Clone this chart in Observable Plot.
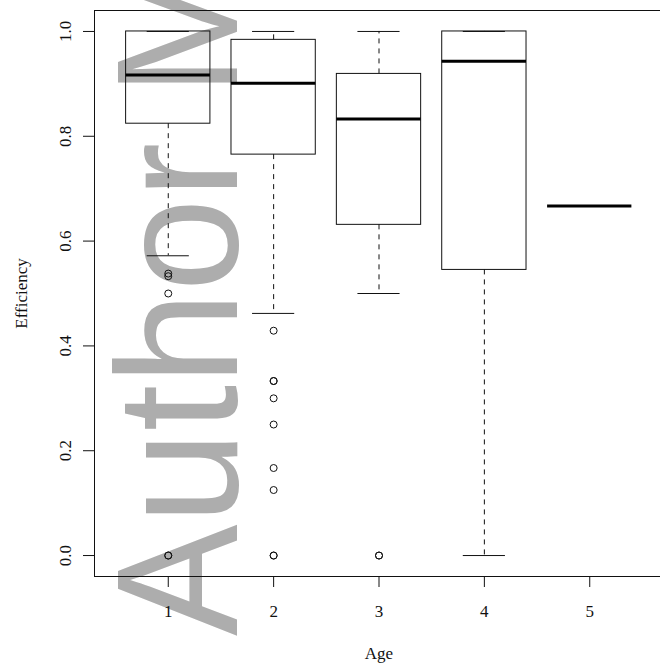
<!DOCTYPE html>
<html>
<head>
<meta charset="utf-8">
<script src="https://cdn.jsdelivr.net/npm/d3@7"></script>
<script src="https://cdn.jsdelivr.net/npm/@observablehq/plot@0.6"></script>
<style>
  html, body { margin: 0; padding: 0; background: #fff; overflow: hidden; }
</style>
</head>
<body>
<div id="chart"></div>
<script>
// Box statistics per age group
const ages        = [1, 2, 3, 4, 5];
const q1          = [0.824, 0.765, 0.631, 0.545, 0.667];
const medians     = [0.917, 0.901, 0.833, 0.943, 0.667];
const q3          = [1.000, 0.984, 0.919, 1.000, 0.667];
const whiskerLow  = [0.572, 0.462, 0.500, 0.000, 0.667];
const whiskerHigh = [1.000, 1.000, 1.000, 1.000, 0.667];

// Outliers
const outlierAge   = [1, 1, 1, 1, 1, 2, 2, 2, 2, 2, 2, 2, 2, 2, 3, 3];
const outlierValue = [0.538, 0.533, 0.500, 0, 0, 0.429, 0.333, 0.333, 0.300, 0.250, 0.167, 0.125, 0, 0, 0, 0];

// Ticks
const xTicks = [1, 2, 3, 4, 5];
const yTicks = [0, 0.2, 0.4, 0.6, 0.8, 1.0];

const boxes = ages.map((a, i) => ({
  age: a, q1: q1[i], median: medians[i], q3: q3[i], lo: whiskerLow[i], hi: whiskerHigh[i]
}));
const outliers = outlierAge.map((a, i) => ({age: a, value: outlierValue[i]}));

const half = 0.4, cap = 0.2;
const ink = "#111";

const plot = Plot.plot({
  width: 663,
  height: 666,
  marginLeft: 94,
  marginRight: 0,
  marginTop: 10,
  marginBottom: 90,
  style: {fontFamily: "'Liberation Serif', 'Times New Roman', serif", fontSize: "17px", maxWidth: "none", overflow: "visible", color: ink},
  x: {domain: [0.3, 5.7]},
  y: {domain: [-0.04, 1.04]},
  marks: [
    Plot.axisY({ticks: yTicks, tickSize: 11, tickPadding: 13, tickRotate: -90, textAnchor: "middle", lineAnchor: "bottom",
                tickFormat: d3.format(".1f"), label: null, stroke: ink}),
    Plot.axisX({ticks: xTicks, tickSize: 11, tickPadding: 29, lineAnchor: "bottom", tickFormat: d => String(d), label: null, stroke: ink}),
    Plot.frame({stroke: ink}),
    // whiskers
    Plot.ruleX(boxes, {x: "age", y1: "q3", y2: "hi", stroke: ink, strokeDasharray: "5,5"}),
    Plot.ruleX(boxes, {x: "age", y1: "q1", y2: "lo", stroke: ink, strokeDasharray: "5,5"}),
    // caps
    Plot.ruleY(boxes, {y: "hi", x1: d => d.age - cap, x2: d => d.age + cap, stroke: ink}),
    Plot.ruleY(boxes, {y: "lo", x1: d => d.age - cap, x2: d => d.age + cap, stroke: ink}),
    // boxes
    Plot.rect(boxes, {x1: d => d.age - half, x2: d => d.age + half, y1: "q1", y2: "q3", fill: "none", stroke: ink}),
    // medians
    Plot.ruleY(boxes, {y: "median", x1: d => d.age - half, x2: d => d.age + half, stroke: "#000", strokeWidth: 3}),
    // outliers
    Plot.dot(outliers, {x: "age", y: "value", r: 3.5, stroke: ink, fill: "none", strokeWidth: 1}),
    // axis titles
    Plot.text(["Age"], {text: d => d, frameAnchor: "bottom", dy: 82, lineAnchor: "bottom", textAnchor: "middle", fill: ink}),
    Plot.text(["Efficiency"], {text: d => d, frameAnchor: "left", dx: -68, rotate: -90, lineAnchor: "bottom", textAnchor: "middle", fill: ink})
  ]
});

// Watermark drawn beneath the chart marks
d3.select(plot).insert("text", "g")
  .attr("transform", "translate(237,636) rotate(-90) scale(0.985,1.02)")
  .attr("text-anchor", "start")
  .attr("font-family", "'Liberation Sans', Arial, sans-serif")
  .attr("font-size", 170)
  .attr("fill", "#adadad")
  .text("Author Manuscript");

document.getElementById("chart").appendChild(plot);
</script>
</body>
</html>
